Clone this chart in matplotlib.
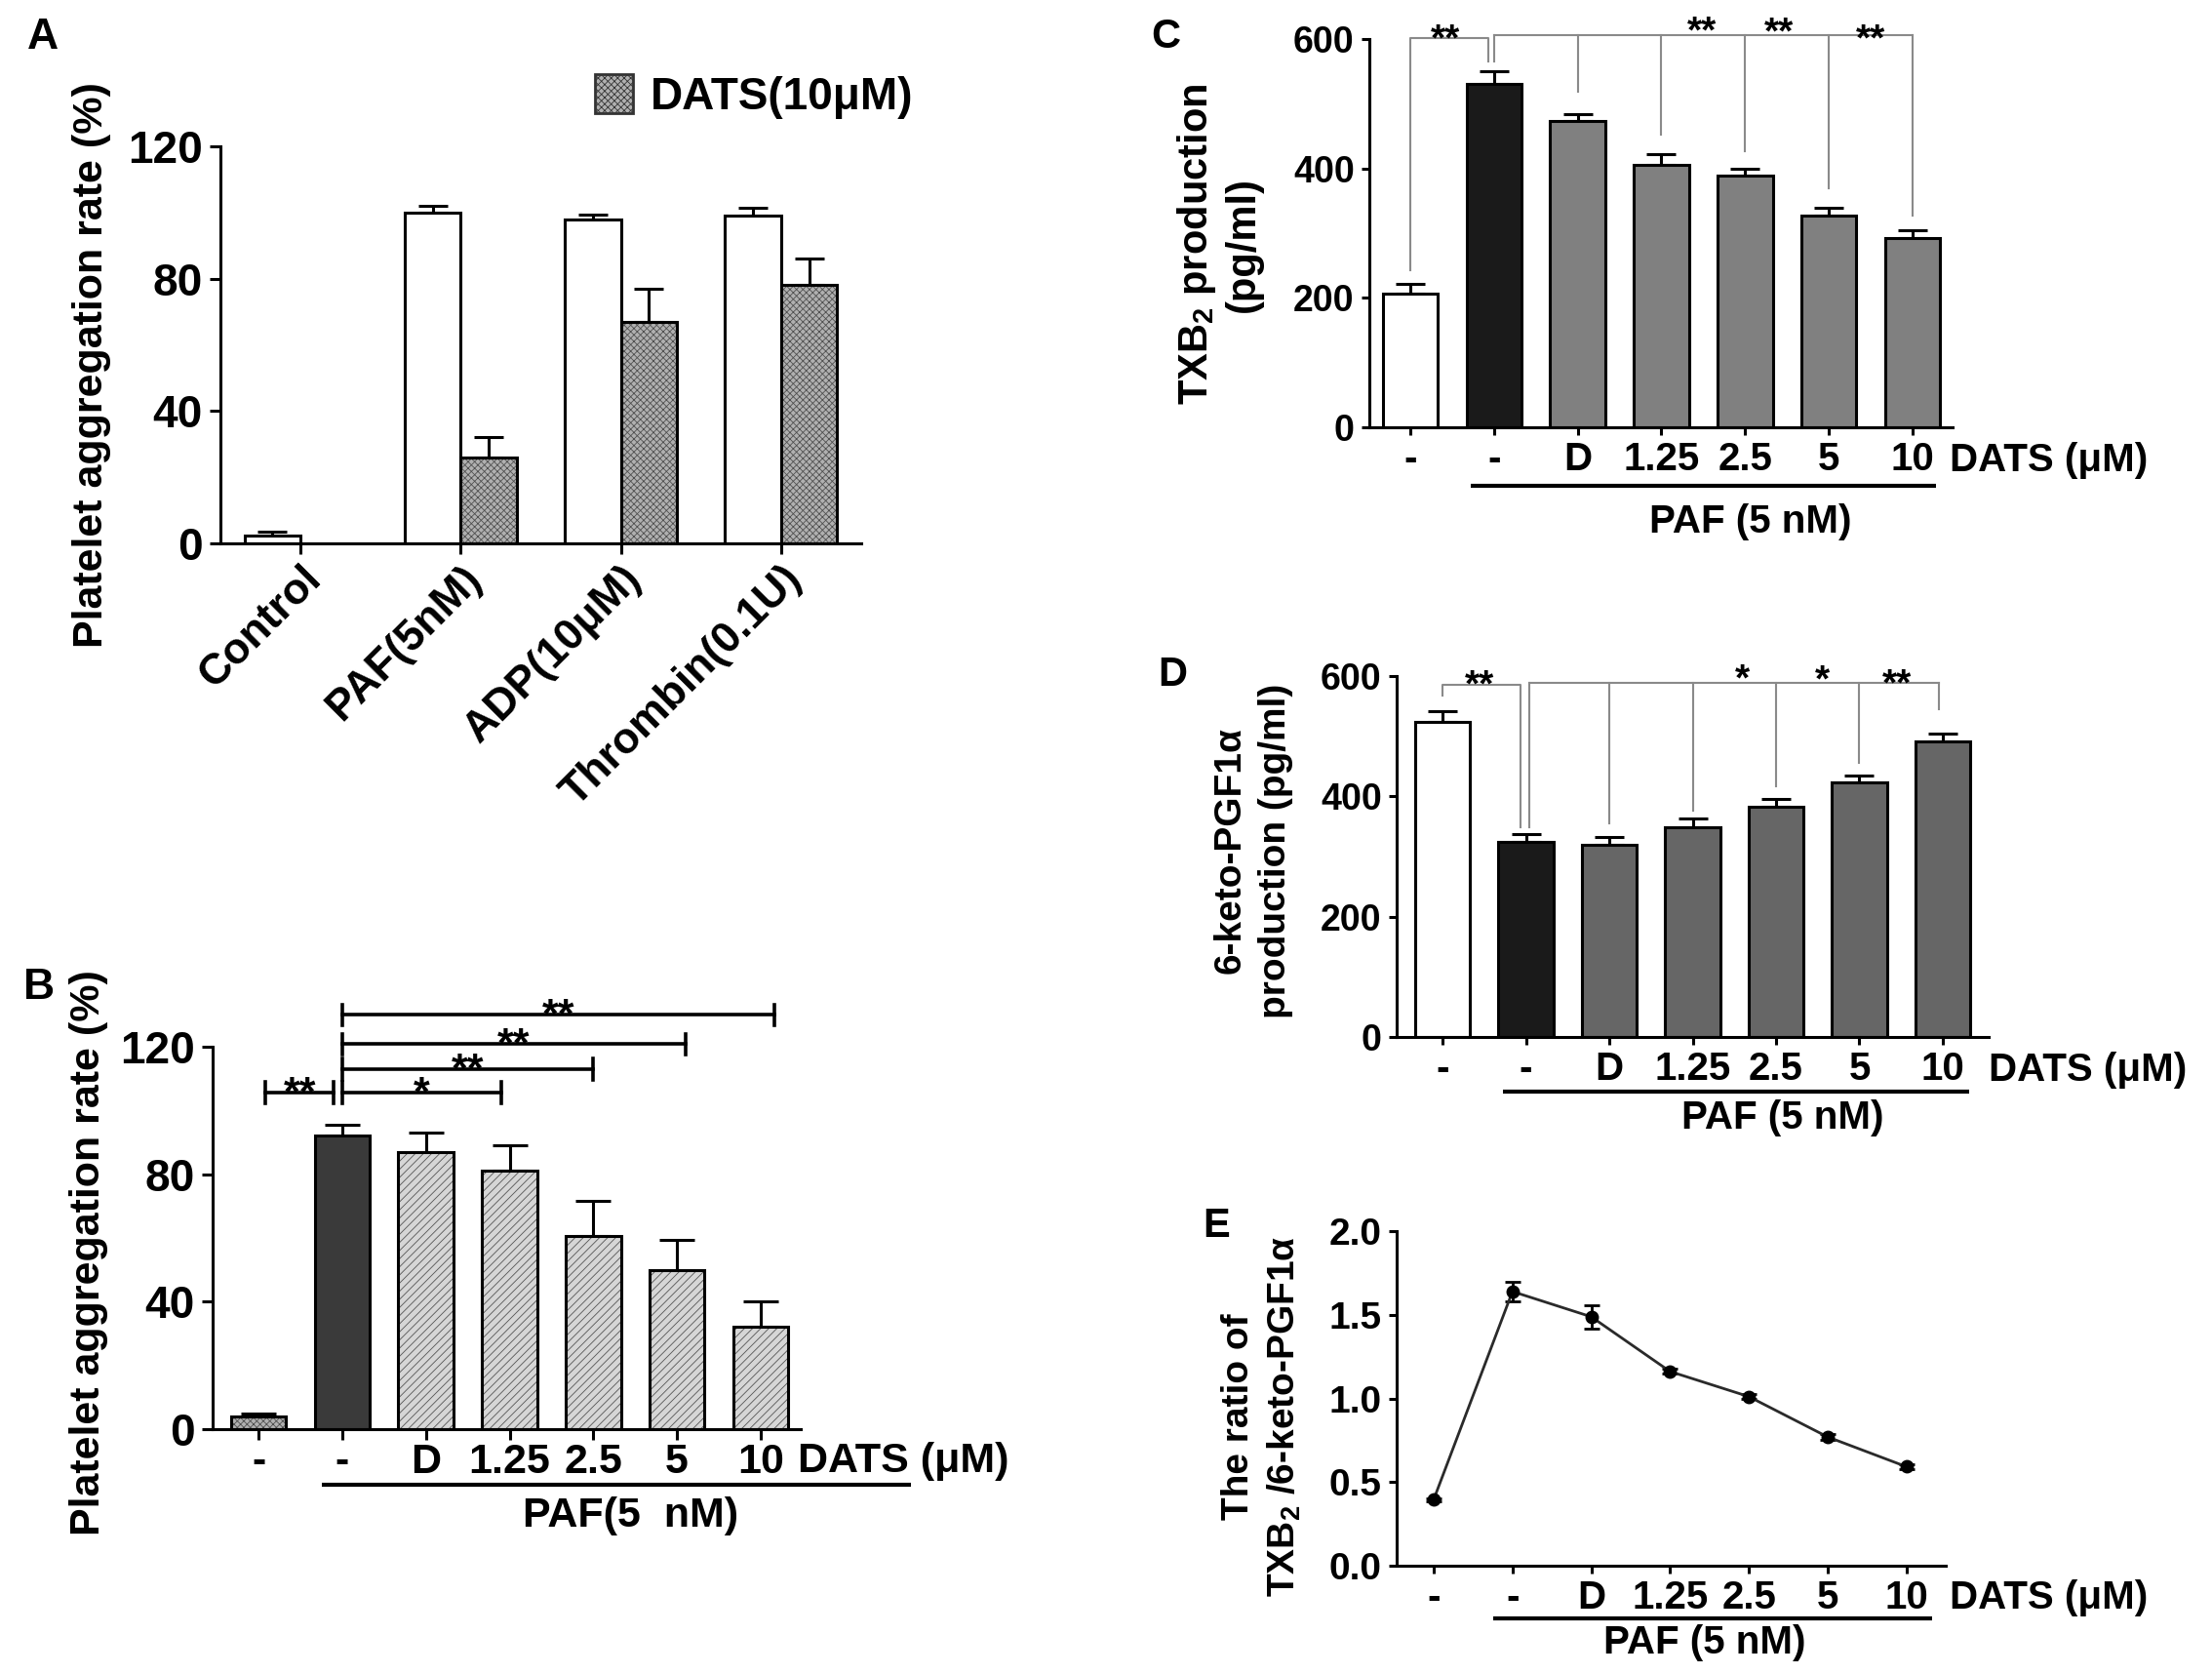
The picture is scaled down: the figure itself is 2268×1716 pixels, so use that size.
import numpy as np
import matplotlib.pyplot as plt
from matplotlib.patches import Patch
from matplotlib import transforms

plt.rcParams['font.family'] = ['Liberation Sans', 'DejaVu Sans']
plt.rcParams['font.weight'] = 'bold'
plt.rcParams['mathtext.fontset'] = 'custom'
plt.rcParams['mathtext.rm'] = 'Liberation Sans:bold'
plt.rcParams['mathtext.default'] = 'rm'
plt.rcParams['hatch.linewidth'] = 0.6

# ---------------- data ----------------
# panel A
a_groups = ['Control', 'PAF(5nM)', 'ADP(10\u03bcM)', 'Thrombin(0.1U)']
a_vehicle = [2.5, 100, 98, 99]
a_vehicle_err = [1.0, 2.0, 1.3, 2.5]
a_dats = [np.nan, 26, 67, 78]
a_dats_err = [np.nan, 6.0, 10.0, 8.0]

# panel B
dose_labels = ['-', '-', 'D', '1.25', '2.5', '5', '10']
b_means = [4, 92, 87, 81, 60.5, 50, 32]
b_err = [1.0, 3.5, 6.0, 8.0, 11.0, 9.5, 8.0]
b_brackets = [(0.08, 0.9, 105.6, '**'), (1.0, 2.9, 105.6, '*'),
              (1.0, 4.0, 113.0, '**'), (1.0, 5.1, 120.8, '**'),
              (1.0, 6.17, 130.0, '**')]

# panel C
c_means = [207, 531, 474, 405, 389, 327, 293]
c_err = [15, 20, 10, 17, 11, 12, 12]
c_pair_x = [0, 0.93]
c_pair_ends = [243, 566]
c_pair_y = 602
c_multi_x = [1.0, 2, 3, 4, 5, 6]
c_multi_ends = [566, 518, 453, 426, 369, 327]
c_multi_y = 606
c_star_x = [0.42, 3.49, 4.40, 5.50]
c_star_y = [616, 628, 626, 616]
c_stars = ['**', '**', '**', '**']

# panel D
d_means = [523, 324, 320, 348, 383, 424, 492]
d_err = [19, 13, 12, 16, 12, 10, 12]
d_pair_x = [0, 0.93]
d_pair_ends = [567, 348]
d_pair_y = 586
d_multi_x = [1.04, 2, 3, 4, 5, 5.95]
d_multi_ends = [348, 355, 377, 417, 455, 545]
d_multi_y = 588
d_star_x = [0.45, 3.6, 4.56, 5.45]
d_star_y = [602, 613, 611, 604]
d_stars = ['**', '*', '*', '**']

# panel E
e_means = [0.395, 1.639, 1.488, 1.161, 1.011, 0.770, 0.592]
e_err = [0.01, 0.057, 0.07, 0.015, 0.015, 0.015, 0.012]

# ---------------- figure ----------------
W, H = 2268, 1716
fig = plt.figure(figsize=(W / 100, H / 100), dpi=100)


def px_axes(left, top, right, bottom):
    return fig.add_axes([left / W, 1 - bottom / H, (right - left) / W, (bottom - top) / H])


def fy(ypx):
    return 1 - ypx / H


def style_axes(ax, size, length, pad):
    for s in ['top', 'right']:
        ax.spines[s].set_visible(False)
    for s in ['left', 'bottom']:
        ax.spines[s].set_linewidth(2.2)
    ax.tick_params(axis='both', width=2.2, length=length, labelsize=size, pad=pad, direction='out')


def hatched_bars(ax, x, h, width, face, hatch, hatch_color):
    ax.bar(x, h, width, color=face, hatch=hatch, edgecolor=hatch_color, linewidth=0, zorder=2)
    ax.bar(x, h, width, fill=False, edgecolor='black', linewidth=2.2, zorder=3)


def up_errors(ax, x, m, e, capsize):
    ax.errorbar(x, m, yerr=[np.zeros(len(e)), e], fmt='none', ecolor='black',
                elinewidth=2.2, capsize=capsize, capthick=2.2, zorder=1)


def paf_block(ax, x_dats, y_ticklab_top, x_line, y_line, x_paf, y_paf, size, paf_text):
    tr = transforms.blended_transform_factory(ax.transData, fig.transFigure)
    ax.text(x_dats, fy(y_ticklab_top), 'DATS (\u03bcM)', transform=tr, ha='left', va='top',
            fontsize=size, clip_on=False)
    ax.plot(x_line, [fy(y_line)] * 2, transform=tr, color='black', lw=3, clip_on=False,
            solid_capstyle='butt')
    ax.text(x_paf, fy(y_paf), paf_text, transform=tr, ha='center', va='center',
            fontsize=size, clip_on=False)


# ---------------- panel A ----------------
axA = px_axes(226, 150, 883, 557)
xa = np.arange(len(a_groups))
wa = 0.35
axA.bar(xa - wa / 2, a_vehicle, wa, color='white', edgecolor='black', linewidth=2.2, zorder=2)
hatched_bars(axA, xa + wa / 2, a_dats, wa, '#b0b0b0', 'xxxxx', '#505050')
up_errors(axA, xa - wa / 2, a_vehicle, a_vehicle_err, 11)
up_errors(axA, xa + wa / 2, a_dats, a_dats_err, 11)
axA.set_xlim(-0.5, 3.5)
axA.set_ylim(0, 120)
axA.set_yticks([0, 40, 80, 120])
style_axes(axA, 33, 8, 5)
axA.set_xticks(xa, labels=a_groups, rotation=45, ha='right', rotation_mode='anchor', fontsize=32)
axA.tick_params(axis='x', pad=3)
axA.legend(handles=[Patch(facecolor='#b0b0b0', edgecolor='#333333', hatch='xxxxx', linewidth=2)],
           labels=['DATS(10\u03bcM)'], loc='center left', bbox_to_anchor=(610 / W, fy(99)),
           bbox_transform=fig.transFigure, frameon=False, fontsize=33, handlelength=0.85,
           handleheight=0.95, handletextpad=0.4, borderpad=0, borderaxespad=0)
fig.text(94 / W, fy(374), 'Platelet aggregation rate (%)', rotation=90, ha='center', va='center',
         fontsize=31)
fig.text(44 / W, fy(38), 'A', ha='center', va='center', fontsize=32)

# ---------------- panel B ----------------
axB = px_axes(218, 1073, 821, 1465)
xb = np.arange(len(b_means))
wb = 0.66
axB.bar(xb[0], b_means[0], wb, color='#b0b0b0', hatch='xxxxx', edgecolor='#505050', linewidth=0, zorder=2)
axB.bar(xb[1], b_means[1], wb, color='#3a3a3a', zorder=2)
hatched_bars(axB, xb[2:], b_means[2:], wb, '#d6d6d6', '////', '#555555')
axB.bar(xb[:2], b_means[:2], wb, fill=False, edgecolor='black', linewidth=2.2, zorder=3)
up_errors(axB, xb, b_means, b_err, 13)
axB.set_xlim(-0.55, 6.48)
axB.set_ylim(0, 120)
axB.set_yticks([0, 40, 80, 120])
style_axes(axB, 33, 8, 5)
axB.set_xticks(xb, labels=dose_labels, fontsize=31)
axB.tick_params(axis='x', pad=2)
for x1, x2, y, star in b_brackets:
    axB.plot([x1, x2], [y, y], color='black', lw=2.6, clip_on=False)
    axB.plot([x1, x1], [y - 3.3, y + 3.3], color='black', lw=2.6, clip_on=False)
    axB.plot([x2, x2], [y - 3.3, y + 3.3], color='black', lw=2.6, clip_on=False)
    axB.text((x1 + x2) / 2, y - 3.6, star, ha='center', va='baseline', fontsize=31, clip_on=False)
paf_block(axB, 6.45, 1478, [0.76, 7.8], 1522, 4.45, 1554, 31, 'PAF(5  nM)')
fig.text(91 / W, fy(1284), 'Platelet aggregation rate (%)', rotation=90, ha='center', va='center',
         fontsize=31)
fig.text(40 / W, fy(1012), 'B', ha='center', va='center', fontsize=32)


# ---------------- panels C and D ----------------
def sig_brackets(ax, pair_x, pair_ends, pair_y, multi_x, multi_ends, multi_y,
                 star_x, star_y, stars, off):
    kw = dict(color='#8a8a8a', lw=1.5, clip_on=False)
    ax.plot([pair_x[0], pair_x[0], pair_x[1], pair_x[1]],
            [pair_ends[0], pair_y, pair_y, pair_ends[1]], **kw)
    ax.plot([multi_x[0], multi_x[-1]], [multi_y, multi_y], **kw)
    for x, e in zip(multi_x, multi_ends):
        ax.plot([x, x], [e, multi_y], **kw)
    for x, y, s in zip(star_x, star_y, stars):
        ax.text(x, y - off, s, ha='center', va='baseline', fontsize=28, clip_on=False)


axC = px_axes(1404, 40, 2002, 438)
xc = np.arange(len(c_means))
c_colors = ['white', '#1a1a1a'] + ['#808080'] * 5
axC.bar(xc, c_means, 0.66, color=c_colors, edgecolor='black', linewidth=2.2, zorder=2)
up_errors(axC, xc, c_means, c_err, 11)
axC.set_xlim(-0.49, 6.48)
axC.set_ylim(0, 600)
axC.set_yticks([0, 200, 400, 600])
style_axes(axC, 27, 6, 5)
axC.set_xticks(xc, labels=dose_labels, fontsize=29)
axC.tick_params(axis='x', labelsize=29, pad=4)
sig_brackets(axC, c_pair_x, c_pair_ends, c_pair_y, c_multi_x, c_multi_ends, c_multi_y,
             c_star_x, c_star_y, c_stars, 33)
paf_block(axC, 6.45, 453, [0.72, 6.28], 498, 4.06, 535, 29, 'PAF (5 nM)')
fig.text(1250 / W, fy(250), 'TXB$_2$ production\n(pg/ml)', rotation=90, ha='center', va='center',
         fontsize=30, linespacing=1.2)
fig.text(1195 / W, fy(38), 'C', ha='center', va='center', fontsize=30)

axD = px_axes(1432, 693, 2039, 1063)
xd = np.arange(len(d_means))
d_colors = ['white', '#1a1a1a'] + ['#666666'] * 5
axD.bar(xd, d_means, 0.66, color=d_colors, edgecolor='black', linewidth=2.2, zorder=2)
up_errors(axD, xd, d_means, d_err, 11)
axD.set_xlim(-0.55, 6.55)
axD.set_ylim(0, 600)
axD.set_yticks([0, 200, 400, 600])
style_axes(axD, 27, 6, 5)
axD.set_xticks(xd, labels=dose_labels, fontsize=29)
axD.tick_params(axis='x', labelsize=29, pad=4)
sig_brackets(axD, d_pair_x, d_pair_ends, d_pair_y, d_multi_x, d_multi_ends, d_multi_y,
             d_star_x, d_star_y, d_stars, 36)
paf_block(axD, 6.55, 1078, [0.72, 6.32], 1119, 4.08, 1146, 29, 'PAF (5 nM)')
fig.text(1285 / W, fy(872), '6-keto-PGF1\u03b1\nproduction (pg/ml)', rotation=90, ha='center',
         va='center', fontsize=28, linespacing=1.35)
fig.text(1202 / W, fy(692), 'D', ha='center', va='center', fontsize=30)

# ---------------- panel E ----------------
axE = px_axes(1432, 1262, 1995, 1605)
xe = np.arange(len(e_means))
axE.errorbar(xe, e_means, yerr=e_err, fmt='-o', color='#2a2a2a', mfc='black', mec='black',
             ms=9, lw=2, ecolor='black', elinewidth=2, capsize=6, capthick=2, clip_on=False)
axE.set_xlim(-0.47, 6.5)
axE.set_ylim(0, 2.0)
axE.set_yticks([0, 0.5, 1.0, 1.5, 2.0])
axE.set_yticklabels(['0.0', '0.5', '1.0', '1.5', '2.0'])
style_axes(axE, 28, 6, 5)
axE.set_xticks(xe, labels=dose_labels, fontsize=29)
axE.tick_params(axis='x', labelsize=29, pad=4)
paf_block(axE, 6.55, 1619, [0.75, 6.33], 1659, 3.44, 1684, 29, 'PAF (5 nM)')
fig.text(1294 / W, fy(1452), 'The ratio of\nTXB$_2$ /6-keto-PGF1\u03b1', rotation=90, ha='center',
         va='center', fontsize=28, linespacing=1.3)
fig.text(1247 / W, fy(1257), 'E', ha='center', va='center', fontsize=30)

fig.savefig('out.png', dpi=100)
